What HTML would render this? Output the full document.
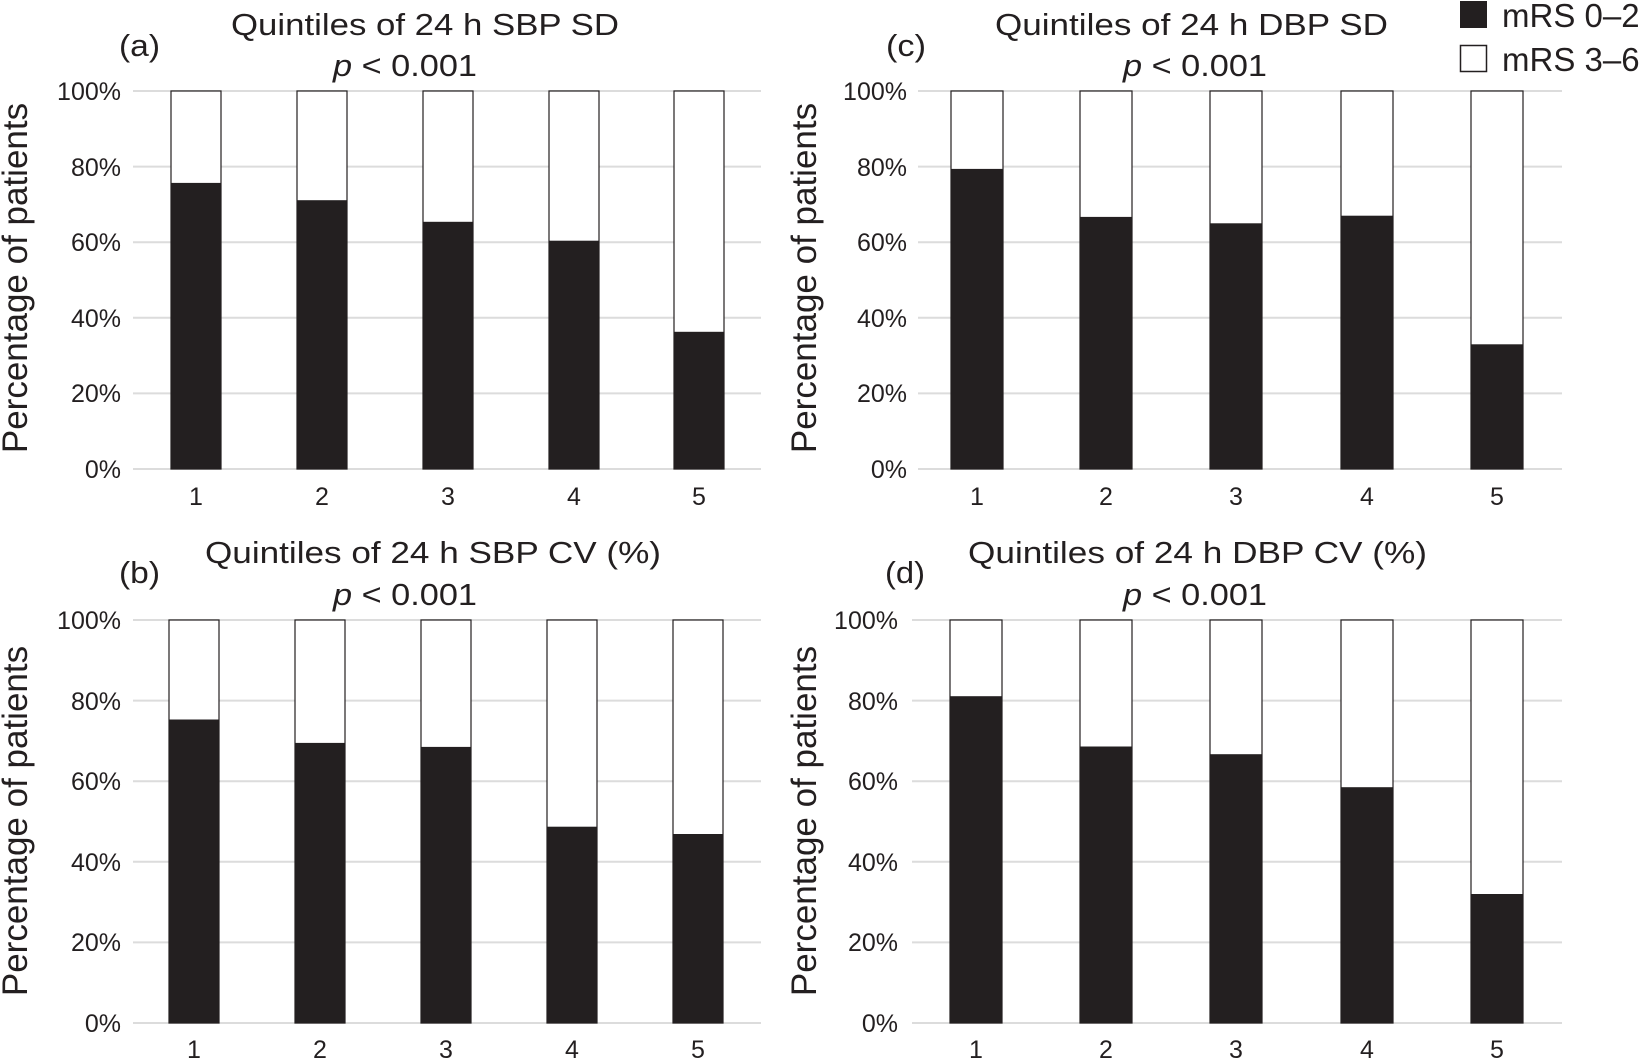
<!DOCTYPE html>
<html><head><meta charset="utf-8"><style>
html,body{margin:0;padding:0;background:#fff;}
svg{display:block;}
text{font-family:"Liberation Sans",Arial,sans-serif;fill:#231f20;}
</style></head><body>
<svg width="1645" height="1060" viewBox="0 0 1645 1060" xmlns="http://www.w3.org/2000/svg">
<!-- Legend -->
<rect x="1460.5" y="1.5" width="26" height="26" fill="#231f20" stroke="#231f20"/>
<text x="1502" y="27" font-size="33">mRS 0–2</text>
<rect x="1460.5" y="45.5" width="26" height="26" fill="#fff" stroke="#231f20" stroke-width="1.5"/>
<text x="1502" y="71" font-size="33">mRS 3–6</text>

<!-- Panel a -->
<g stroke="#dcdcdc" stroke-width="2">
<line x1="133" x2="761" y1="91" y2="91"/><line x1="133" x2="761" y1="166.6" y2="166.6"/><line x1="133" x2="761" y1="242.2" y2="242.2"/><line x1="133" x2="761" y1="317.8" y2="317.8"/><line x1="133" x2="761" y1="393.4" y2="393.4"/><line x1="133" x2="761" y1="469" y2="469"/>
</g>
<g font-size="25" text-anchor="end">
<text x="121" y="100">100%</text><text x="121" y="176">80%</text><text x="121" y="251">60%</text><text x="121" y="327">40%</text><text x="121" y="402">20%</text><text x="121" y="478">0%</text>
</g>
<g stroke="#231f20" stroke-width="1.2" fill="#fff">
<rect x="171" y="91" width="50" height="378"/><rect x="297" y="91" width="50" height="378"/><rect x="423" y="91" width="50" height="378"/><rect x="549" y="91" width="50" height="378"/><rect x="674" y="91" width="50" height="378"/>
</g>
<g fill="#231f20">
<rect x="171" y="182.9" width="50" height="286.1"/><rect x="297" y="200.2" width="50" height="268.8"/><rect x="423" y="221.8" width="50" height="247.2"/><rect x="549" y="240.7" width="50" height="228.3"/><rect x="674" y="331.8" width="50" height="137.2"/>
</g>
<g font-size="25" text-anchor="middle">
<text x="196" y="505">1</text><text x="322" y="505">2</text><text x="448" y="505">3</text><text x="574" y="505">4</text><text x="699" y="505">5</text>
</g>
<text x="231" y="35" font-size="31" textLength="388" lengthAdjust="spacingAndGlyphs">Quintiles of 24 h SBP SD</text>
<text x="119" y="56" font-size="31" textLength="41" lengthAdjust="spacingAndGlyphs">(a)</text>
<text x="333" y="76" font-size="31" textLength="144" lengthAdjust="spacingAndGlyphs"><tspan font-style="italic">p</tspan> &lt; 0.001</text>
<text transform="translate(27,278) rotate(-90)" font-size="35" text-anchor="middle">Percentage of patients</text>

<!-- Panel c -->
<g stroke="#dcdcdc" stroke-width="2">
<line x1="918" x2="1562" y1="91" y2="91"/><line x1="918" x2="1562" y1="166.6" y2="166.6"/><line x1="918" x2="1562" y1="242.2" y2="242.2"/><line x1="918" x2="1562" y1="317.8" y2="317.8"/><line x1="918" x2="1562" y1="393.4" y2="393.4"/><line x1="918" x2="1562" y1="469" y2="469"/>
</g>
<g font-size="25" text-anchor="end">
<text x="907" y="100">100%</text><text x="907" y="176">80%</text><text x="907" y="251">60%</text><text x="907" y="327">40%</text><text x="907" y="402">20%</text><text x="907" y="478">0%</text>
</g>
<g stroke="#231f20" stroke-width="1.2" fill="#fff">
<rect x="951" y="91" width="52" height="378"/><rect x="1080" y="91" width="52" height="378"/><rect x="1210" y="91" width="52" height="378"/><rect x="1341" y="91" width="52" height="378"/><rect x="1471" y="91" width="52" height="378"/>
</g>
<g fill="#231f20">
<rect x="951" y="168.9" width="52" height="300.1"/><rect x="1080" y="216.9" width="52" height="252.1"/><rect x="1210" y="223.3" width="52" height="245.7"/><rect x="1341" y="215.7" width="52" height="253.3"/><rect x="1471" y="344.3" width="52" height="124.7"/>
</g>
<g font-size="25" text-anchor="middle">
<text x="977" y="505">1</text><text x="1106" y="505">2</text><text x="1236" y="505">3</text><text x="1367" y="505">4</text><text x="1497" y="505">5</text>
</g>
<text x="995" y="35" font-size="31" textLength="393" lengthAdjust="spacingAndGlyphs">Quintiles of 24 h DBP SD</text>
<text x="886" y="56" font-size="31" textLength="40" lengthAdjust="spacingAndGlyphs">(c)</text>
<text x="1123" y="76" font-size="31" textLength="144" lengthAdjust="spacingAndGlyphs"><tspan font-style="italic">p</tspan> &lt; 0.001</text>
<text transform="translate(816,278) rotate(-90)" font-size="35" text-anchor="middle">Percentage of patients</text>

<!-- Panel b -->
<g stroke="#dcdcdc" stroke-width="2">
<line x1="133" x2="761" y1="620" y2="620"/><line x1="133" x2="761" y1="700.6" y2="700.6"/><line x1="133" x2="761" y1="781.2" y2="781.2"/><line x1="133" x2="761" y1="861.8" y2="861.8"/><line x1="133" x2="761" y1="942.4" y2="942.4"/><line x1="133" x2="761" y1="1023" y2="1023"/>
</g>
<g font-size="25" text-anchor="end">
<text x="121" y="629">100%</text><text x="121" y="710">80%</text><text x="121" y="790">60%</text><text x="121" y="871">40%</text><text x="121" y="951">20%</text><text x="121" y="1032">0%</text>
</g>
<g stroke="#231f20" stroke-width="1.2" fill="#fff">
<rect x="169" y="620" width="50" height="403"/><rect x="295" y="620" width="50" height="403"/><rect x="421" y="620" width="50" height="403"/><rect x="547" y="620" width="50" height="403"/><rect x="673" y="620" width="50" height="403"/>
</g>
<g fill="#231f20">
<rect x="169" y="719.5" width="50" height="303.5"/><rect x="295" y="742.9" width="50" height="280.1"/><rect x="421" y="746.9" width="50" height="276.1"/><rect x="547" y="826.7" width="50" height="196.3"/><rect x="673" y="834" width="50" height="189"/>
</g>
<g font-size="25" text-anchor="middle">
<text x="194" y="1058">1</text><text x="320" y="1058">2</text><text x="446" y="1058">3</text><text x="572" y="1058">4</text><text x="698" y="1058">5</text>
</g>
<text x="205" y="563" font-size="31" textLength="456" lengthAdjust="spacingAndGlyphs">Quintiles of 24 h SBP CV (%)</text>
<text x="119" y="583" font-size="31" textLength="41" lengthAdjust="spacingAndGlyphs">(b)</text>
<text x="333" y="605" font-size="31" textLength="144" lengthAdjust="spacingAndGlyphs"><tspan font-style="italic">p</tspan> &lt; 0.001</text>
<text transform="translate(27,821) rotate(-90)" font-size="35" text-anchor="middle">Percentage of patients</text>

<!-- Panel d -->
<g stroke="#dcdcdc" stroke-width="2">
<line x1="912" x2="1562" y1="620" y2="620"/><line x1="912" x2="1562" y1="700.6" y2="700.6"/><line x1="912" x2="1562" y1="781.2" y2="781.2"/><line x1="912" x2="1562" y1="861.8" y2="861.8"/><line x1="912" x2="1562" y1="942.4" y2="942.4"/><line x1="912" x2="1562" y1="1023" y2="1023"/>
</g>
<g font-size="25" text-anchor="end">
<text x="898" y="629">100%</text><text x="898" y="710">80%</text><text x="898" y="790">60%</text><text x="898" y="871">40%</text><text x="898" y="951">20%</text><text x="898" y="1032">0%</text>
</g>
<g stroke="#231f20" stroke-width="1.2" fill="#fff">
<rect x="950" y="620" width="52" height="403"/><rect x="1080" y="620" width="52" height="403"/><rect x="1210" y="620" width="52" height="403"/><rect x="1341" y="620" width="52" height="403"/><rect x="1471" y="620" width="52" height="403"/>
</g>
<g fill="#231f20">
<rect x="950" y="696.2" width="52" height="326.8"/><rect x="1080" y="746.5" width="52" height="276.5"/><rect x="1210" y="754.2" width="52" height="268.8"/><rect x="1341" y="787.2" width="52" height="235.8"/><rect x="1471" y="894" width="52" height="129"/>
</g>
<g font-size="25" text-anchor="middle">
<text x="976" y="1058">1</text><text x="1106" y="1058">2</text><text x="1236" y="1058">3</text><text x="1367" y="1058">4</text><text x="1497" y="1058">5</text>
</g>
<text x="968" y="563" font-size="31" textLength="459" lengthAdjust="spacingAndGlyphs">Quintiles of 24 h DBP CV (%)</text>
<text x="885" y="583" font-size="31" textLength="40" lengthAdjust="spacingAndGlyphs">(d)</text>
<text x="1123" y="605" font-size="31" textLength="144" lengthAdjust="spacingAndGlyphs"><tspan font-style="italic">p</tspan> &lt; 0.001</text>
<text transform="translate(816,821) rotate(-90)" font-size="35" text-anchor="middle">Percentage of patients</text>
</svg>
</body></html>
